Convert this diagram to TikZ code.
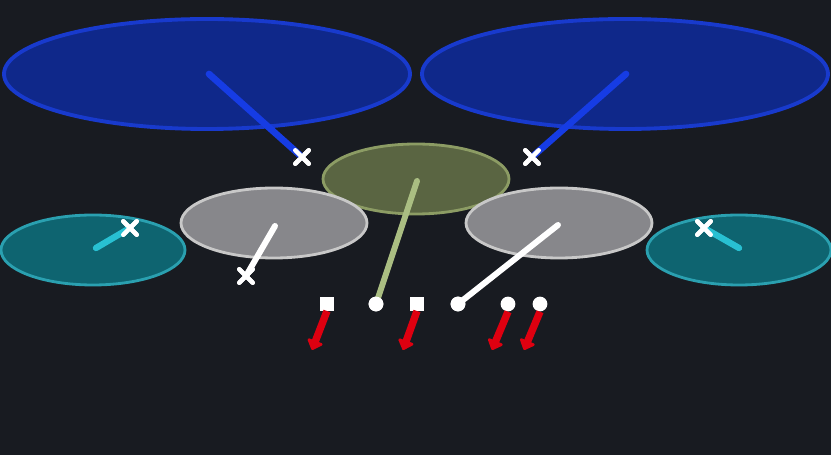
\documentclass[tikz,border=0pt]{standalone}
\usetikzlibrary{shapes.misc,arrows.meta}
\definecolor{bgc}{RGB}{24,27,33}
\definecolor{bluefill}{RGB}{15,40,138}
\definecolor{blueline}{RGB}{24,58,205}
\definecolor{bluestick}{RGB}{22,60,228}
\definecolor{greenfill}{RGB}{90,101,66}
\definecolor{greenline}{RGB}{140,156,100}
\definecolor{greenstick}{RGB}{170,190,130}
\definecolor{greyfill}{RGB}{135,135,139}
\definecolor{greyline}{RGB}{200,200,200}
\definecolor{cyanfill}{RGB}{14,100,112}
\definecolor{cyanline}{RGB}{42,160,176}
\definecolor{cyanstick}{RGB}{40,192,210}
\definecolor{redc}{RGB}{222,0,16}
\tikzset{
	xmark/.style={cross out,draw=white,line width=2.6pt,line cap=round,minimum size=5pt,inner sep=0pt},
	sqmark/.style={rectangle,fill=white,minimum size=7.6pt,inner sep=0pt},
	dotmark/.style={circle,fill=white,minimum size=8.4pt,inner sep=0pt},
	redarrow/.style={draw=redc,line width=4.2pt,-{Triangle[round,length=6pt,width=10.5pt]}}
}
\begin{document}
\begin{tikzpicture}[x=0.02cm,y=-0.02cm]
		\fill[bgc] (0,0) rectangle (831,455);
		\useasboundingbox (0,0) rectangle (831,455);
		
		\filldraw[fill=bluefill,draw=blueline,line width=2.2pt] (207,74) ellipse (203 and 55);
		\filldraw[fill=bluefill,draw=blueline,line width=2.2pt] (625,74) ellipse (203 and 55);
		\filldraw[fill=cyanfill,draw=cyanline,line width=1.6pt] (93,250) ellipse (92 and 35);
		\filldraw[fill=cyanfill,draw=cyanline,line width=1.6pt] (739,250) ellipse (92 and 35);
		\filldraw[fill=greenfill,draw=greenline,line width=1.6pt] (416,179) ellipse (93 and 35);
		\filldraw[fill=greyfill,draw=greyline,line width=1.6pt] (274,223) ellipse (93 and 35);
		\filldraw[fill=greyfill,draw=greyline,line width=1.6pt] (559,223) ellipse (93 and 35);
		
		\coordinate (bl) at (209,74);
		\coordinate (br) at (626,74);
		\coordinate (gn) at (417,181);
		\coordinate (gl) at (275,226);
		\coordinate (gr) at (558,225);
		\coordinate (cl) at (96,248);
		\coordinate (cr) at (739,248);
		
		\node[xmark] (xbl) at (302,157) {};
		\node[xmark] (xbr) at (532,157) {};
		\node[xmark] (xgl) at (246,276) {};
		\node[xmark] (xcl) at (130,228) {};
		\node[xmark] (xcr) at (704,228) {};
		
		\node[sqmark] (s1) at (327,304) {};
		\node[dotmark] (d1) at (376,304) {};
		\node[sqmark] (s2) at (417,304) {};
		\node[dotmark] (d2) at (458,304) {};
		\node[dotmark] (d3) at (508,304) {};
		\node[dotmark] (d4) at (540,304) {};
		
		\draw[bluestick,line width=3.8pt,line cap=round] (bl) -- (xbl.center);
		\draw[bluestick,line width=3.8pt,line cap=round] (br) -- (xbr.center);
		\draw[white,line width=3.4pt,line cap=round] (gl) -- (xgl.center);
		\draw[cyanstick,line width=3.6pt,line cap=round] (cl) -- (xcl.center);
		\draw[cyanstick,line width=3.6pt,line cap=round] (cr) -- (xcr.center);
		\draw[greenstick,line width=3.4pt,line cap=round] (gn) -- (d1.center);
		\draw[white,line width=3.4pt,line cap=round] (gr) -- (d2.center);
		
		\node[xmark] at (xbl) {};
		\node[xmark] at (xbr) {};
		\node[xmark] at (xgl) {};
		\node[xmark] at (xcl) {};
		\node[xmark] at (xcr) {};
		\node[dotmark] at (d1) {};
		\node[dotmark] at (d2) {};
		
		\coordinate (a1) at (312,350);
		\coordinate (a2) at (403,350);
		\coordinate (a3) at (492,350);
		\coordinate (a4) at (524,350);
		\draw[redarrow] (s1.south) -- (a1);
		\draw[redarrow] (s2.south) -- (a2);
		\draw[redarrow] (d3.south) -- (a3);
		\draw[redarrow] (d4.south) -- (a4);
		\end{tikzpicture}
\end{document}
